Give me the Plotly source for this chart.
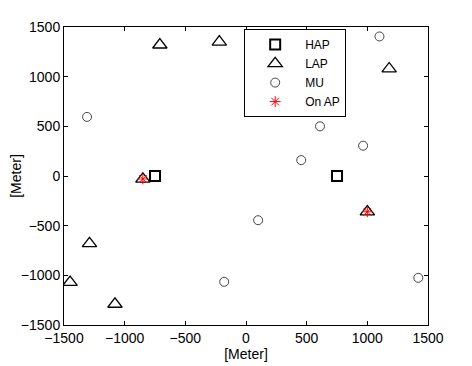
import plotly.graph_objects as go

# access points / users positions in meters
hap_x = [-750, 750]
hap_y = [0, 0]

lap_x = [-710, -220, 1180, -850, 1000, -1290, -1450, -1080]
lap_y = [1320, 1350, 1080, -30, -360, -680, -1070, -1290]

mu_x = [-1310, 1100, 610, 965, 455, 100, 1420, -180]
mu_y = [595, 1405, 500, 305, 160, -445, -1025, -1065]

onap_x = [-850, 1000]
onap_y = [-30, -360]

fig = go.Figure()

fig.add_trace(go.Scatter(x=hap_x, y=hap_y, mode='markers', name='HAP',
                         marker=dict(symbol='square-open', size=10, color='black',
                                     line=dict(width=2, color='black'))))
fig.add_trace(go.Scatter(x=lap_x, y=lap_y, mode='markers', name='LAP',
                         marker=dict(symbol='triangle-up-open', size=12.5, color='black',
                                     line=dict(width=1.3, color='black'))))
fig.add_trace(go.Scatter(x=mu_x, y=mu_y, mode='markers', name='MU',
                         marker=dict(symbol='circle-open', size=9, color='#444444',
                                     line=dict(width=1, color='#444444'))))
fig.add_trace(go.Scatter(x=onap_x, y=onap_y, mode='markers', name='On AP',
                         marker=dict(symbol='asterisk-open', size=9, color='red',
                                     line=dict(width=1, color='red'))))

axis_style = dict(
    showgrid=False, zeroline=False, automargin=False,
    showline=True, linecolor='black', linewidth=1, mirror='allticks',
    ticks='inside', ticklen=4, tickcolor='black',
    tickfont=dict(size=14, color='black'),
    title_font=dict(size=14, color='black'),
    dtick=500,
)

fig.update_xaxes(range=[-1500, 1500], title_text='[Meter]', title_standoff=0, **axis_style)
fig.update_yaxes(range=[-1500, 1500], title_text='[Meter]', title_standoff=0, **axis_style)

# page body has an 8px margin, so the figure is a bit smaller than the window
fig.update_layout(
    width=464, height=358,
    margin=dict(l=56, r=44, t=19, b=41),
    plot_bgcolor='white', paper_bgcolor='white',
    font=dict(family='Liberation Sans, Arial, sans-serif', size=14, color='black'),
    showlegend=True,
    legend=dict(x=0.495, y=0.993, xanchor='left', yanchor='top',
                bordercolor='black', borderwidth=1, bgcolor='white',
                font=dict(size=12), tracegroupgap=0, itemwidth=50),
)

fig.write_html("out.html")
